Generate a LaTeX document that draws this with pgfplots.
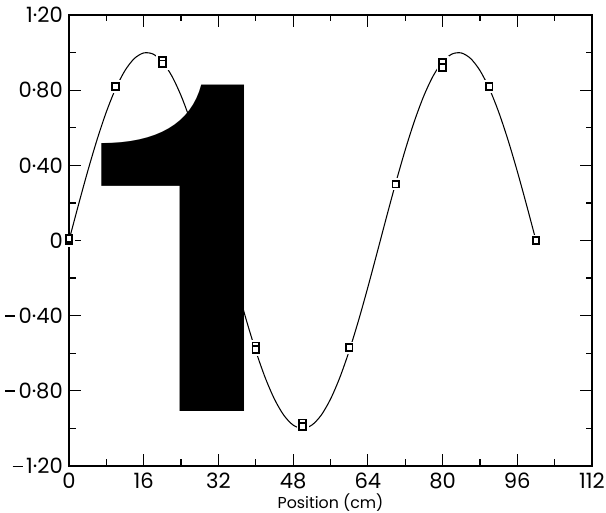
\documentclass[border=0pt]{standalone}
\usepackage{pgfplots}
\pgfplotsset{compat=1.18}
\usepackage{fontspec}
\setmainfont{Poppins}
\newfontfamily\onefont{TeX Gyre Heros}
\newcommand{\mn}{\rule[0.3em]{0.48em}{0.085em}\hspace{0.16em}}
\begin{document}
\begin{tikzpicture}
\begin{axis}[
  scale only axis,
  width=10.46cm, height=9.02cm,
  xmin=0, xmax=112, ymin=-1.2, ymax=1.2,
  xtick={0,16,...,112},
  minor xtick={8,24,...,104},
  ytick={-1.2,-0.8,-0.4,0,0.4,0.8,1.2},
  minor ytick={-1.0,-0.6,-0.2,0.2,0.6,1.0},
  yticklabels={\mn 1·20,\mn 0·80,\mn 0·40,0,0·40,0·80,1·20},
  xticklabels={0,16,32,48,64,80,96,112},
  tick align=inside,
  major tick length=0.24cm,
  minor tick length=0.13cm,
  every tick/.style={black, line width=0.7pt},
  axis line style={line width=1pt},
  ticklabel style={font=\fontsize{12}{14}\selectfont},
  xticklabel style={yshift=-0.02cm},
  yticklabel style={xshift=0cm},
  xlabel={Position (cm)},
  xlabel style={font=\fontsize{9}{11}\selectfont, yshift=0.14cm},
  clip=false,
]
\addplot[black, line width=0.6pt, smooth] coordinates {
(0,0) (2,0.1874) (4,0.3681) (6,0.5358) (8,0.6845) (10,0.8090) (12,0.9048)
(14,0.9686) (16,0.9980) (18,0.9921) (20,0.9511) (22,0.8763) (24,0.7705)
(26,0.6374) (28,0.4818) (30,0.3090) (32,0.1253) (34,-0.0628) (36,-0.2487)
(38,-0.4258) (40,-0.5878) (42,-0.7290) (44,-0.8443) (46,-0.9298) (48,-0.9823)
(50,-1.0) (52,-0.9823) (54,-0.9298) (56,-0.8443) (58,-0.7290) (60,-0.5878)
(62,-0.4258) (64,-0.2487) (66,-0.0628) (68,0.1253) (70,0.3090) (72,0.4818)
(74,0.6374) (76,0.7705) (78,0.8763) (80,0.9511) (82,0.9921) (84,0.9980)
(86,0.9686) (88,0.9048) (90,0.8090) (92,0.6845) (94,0.5358) (96,0.3681)
(98,0.1874) (100,0)
};
\addplot[only marks, mark=square*, mark size=3.2pt, white] coordinates {
(0,0) (10,0.82) (20,0.96) (20,0.94) (40,-0.56) (40,-0.58) (50,-0.97) (50,-0.99)
(60,-0.57) (70,0.30) (80,0.95) (80,0.92) (90,0.82) (100,0)
};
\addplot[only marks, mark=square*, mark size=1.9pt, mark options={draw=black, fill=white, line width=1pt}] coordinates {
(0,0) (0,0.01) (10,0.82) (20,0.96) (20,0.94) (40,-0.56) (40,-0.58) (50,-0.97) (50,-0.99)
(60,-0.57) (70,0.30) (80,0.95) (80,0.92) (90,0.82) (90,0.82) (100,0)
};
\node[anchor=base, inner sep=0pt, font=\onefont\bfseries] at (axis cs:27.8,-0.91) {\fontsize{262}{262}\selectfont 1};
\end{axis}
\pgfresetboundingbox
\path (-1.38cm,-0.94cm) rectangle (10.74cm,9.32cm);
\end{tikzpicture}
\end{document}
